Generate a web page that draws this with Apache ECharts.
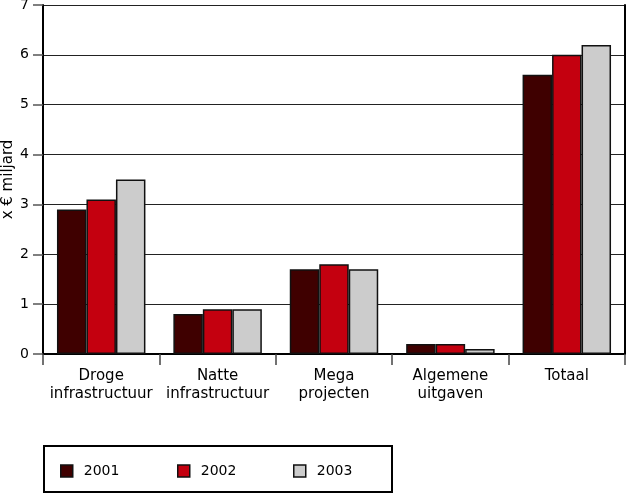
<!DOCTYPE html>
<html>
<head>
<meta charset="utf-8">
<script src="https://cdn.jsdelivr.net/npm/echarts@6/dist/echarts.min.js"></script>
<style>
html,body{margin:0;padding:0;background:#fff;}
#chart{width:627px;height:494px;}
</style>
</head>
<body>
<div id="chart"></div>
<script>
const categories = ['Droge\ninfrastructuur', 'Natte\ninfrastructuur', 'Mega\nprojecten', 'Algemene\nuitgaven', 'Totaal'];
const years = ['2001', '2002', '2003'];
const values2001 = [2.9, 0.8, 1.7, 0.2, 5.6];
const values2002 = [3.1, 0.9, 1.8, 0.2, 6.0];
const values2003 = [3.5, 0.9, 1.7, 0.1, 6.2];
const yTicks = [0, 1, 2, 3, 4, 5, 6, 7];
const axisName = 'x € miljard';

const colors = ['#3f0000', '#c4000f', '#cccccc'];
const seriesValues = [values2001, values2002, values2003];
const font = '"DejaVu Sans", sans-serif';

const chart = echarts.init(document.getElementById('chart'), null, {renderer: 'canvas'});

const legendLefts = [60, 177, 293];
const legends = years.map((y, i) => ({
  data: [y],
  left: legendLefts[i],
  top: 464,
  padding: 0,
  itemWidth: 12,
  itemHeight: 12,
  icon: 'rect',
  selectedMode: false,
  itemStyle: {borderColor: '#111', borderWidth: 1.5},
  textStyle: {fontFamily: font, fontSize: 14, color: '#000', padding: [0, 0, 0, 6]}
}));

chart.setOption({
  animation: false,
  color: colors,
  grid: {left: 43, right: 2, top: 5, bottom: 140, containLabel: false, outerBoundsMode: 'none'},
  legend: legends,
  graphic: [{
    type: 'rect',
    shape: {x: 44, y: 446, width: 348, height: 46},
    style: {fill: 'none', stroke: '#000', lineWidth: 2}
  }],
  xAxis: {
    type: 'category',
    data: categories,
    axisLine: {show: true, lineStyle: {color: '#000', width: 2}},
    axisTick: {show: true, length: 11, lineStyle: {color: '#444', width: 1.5}},
    axisLabel: {fontFamily: font, fontSize: 15, color: '#000', margin: 13, lineHeight: 18, interval: 0},
    splitLine: {show: false}
  },
  yAxis: [{
    type: 'value',
    min: 0,
    max: 7,
    interval: 1,
    name: axisName,
    nameLocation: 'middle',
    nameRotate: 90,
    nameGap: 27,
    nameMoveOverlap: false,
    nameTextStyle: {fontFamily: font, fontSize: 15, color: '#000'},
    axisLine: {show: true, lineStyle: {color: '#000', width: 2}},
    axisTick: {show: true, length: 10, lineStyle: {color: '#555', width: 1.5}},
    axisLabel: {fontFamily: font, fontSize: 14, color: '#000', margin: 14,
      formatter: v => yTicks.includes(v) ? String(v) : ''},
    splitLine: {show: true, lineStyle: {color: '#222', width: 1}}
  }, {
    type: 'value',
    position: 'right',
    min: 0,
    max: 7,
    interval: 1,
    axisLine: {show: true, lineStyle: {color: '#000', width: 2}},
    axisTick: {show: false},
    axisLabel: {show: false},
    splitLine: {show: false}
  }],
  series: years.map((y, i) => ({
    name: y,
    type: 'bar',
    data: seriesValues[i],
    barGap: '0%',
    barCategoryGap: '24%',
    itemStyle: {color: colors[i], borderColor: '#111', borderWidth: 1.5}
  }))
});
</script>
</body>
</html>
